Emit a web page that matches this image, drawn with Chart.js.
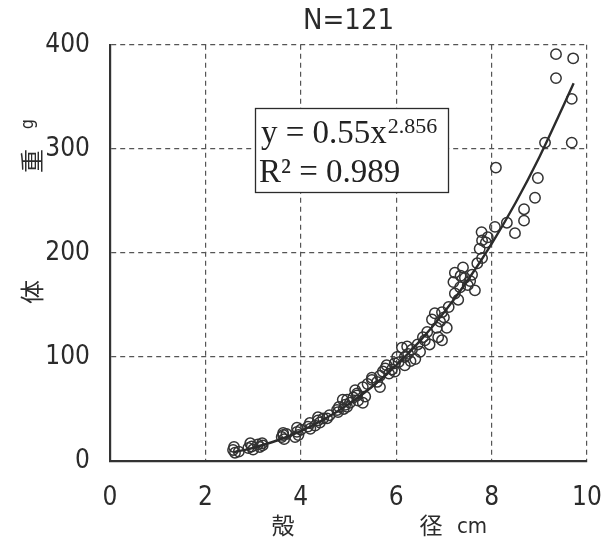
<!DOCTYPE html>
<html>
<head>
<meta charset="utf-8">
<script src="https://cdn.jsdelivr.net/npm/chart.js@4"></script>
<style>
  html, body { margin: 0; padding: 0; background: #fff; }
  #wrap { width: 610px; height: 546px; }
</style>
</head>
<body>
<div id="wrap"><canvas id="shellChart" width="610" height="546"></canvas></div>
<script>
// ==============================
// DATA
// ==============================

const chartTitle = 'N=121';
const xTicks = [0, 2, 4, 6, 8, 10];
const yTicks = [0, 100, 200, 300, 400];

// shell diameter (cm) / body weight (g)
const shellDiameter = [
    2.58, 2.6, 2.62, 2.9, 2.94, 2.97, 3.0, 3.14, 3.19, 3.2,
    3.6, 3.63, 3.63, 3.65, 3.88, 3.92, 3.92, 3.95,
    4.15, 4.19, 4.3, 4.36, 4.36, 4.4, 4.47, 4.55,
    4.76, 4.78, 4.8, 4.88, 4.93, 4.97, 4.97, 5.03,
    5.14, 5.18, 5.18, 5.3, 5.3, 5.2, 5.35,
    5.49, 5.49, 5.66, 5.66, 5.72, 5.77, 5.8, 5.91, 5.97, 5.97, 6.02,
    6.12, 6.18, 6.18, 6.23, 6.33, 6.5, 6.4, 6.3,
    6.56, 6.65, 6.75, 6.81, 6.88, 6.92, 6.96, 6.96, 7.06, 6.7, 6.85,
    7.23, 7.4, 7.44, 7.59, 7.34, 7.5, 7.65, 7.23, 7.3, 7.2, 7.55,
    7.79, 7.92, 7.8, 7.88, 7.8, 8.07, 8.32, 8.49, 8.68, 8.68, 8.91, 8.97, 8.09,
    9.12, 9.35, 9.71, 9.35, 9.68, 9.68,
    2.7, 3.1, 3.7, 4.0, 4.2, 4.6, 4.9, 5.1, 5.4, 5.6,
    5.85, 6.05, 6.25, 6.45, 6.6, 7.0, 7.1, 7.35, 7.7, 7.75
];
const bodyWeight = [
    10.6, 13.5, 8, 12.5, 17, 14, 11, 13.5, 17, 15,
    23, 27, 25, 21, 23, 32, 28, 25,
    33, 36.5, 34, 39, 42, 37, 41, 41,
    49, 47, 52, 59, 54, 52, 59, 56,
    68, 63, 65, 71, 56, 58, 62,
    78, 80, 71, 82, 86, 89, 92, 88, 94, 86, 100,
    109, 100, 92, 110, 107, 105, 98, 96,
    119, 124, 136, 142, 119, 134, 143, 116, 128, 112, 128,
    181, 186, 176, 179, 167, 169, 164, 161, 155, 172, 173,
    220, 215, 212, 210, 195, 225, 229, 219, 231, 242, 253, 272, 282,
    306, 391, 387, 368, 348, 306,
    9, 16, 26, 30, 31, 44, 50, 61, 74, 76,
    84, 95, 103, 112, 116, 138, 148, 178, 190, 204
];

// fitted curve y = 0.55x^2.856
const fitX = [2.6, 3.0, 3.5, 4.0, 4.5, 5.0, 5.5, 6.0, 6.5, 7.0, 7.5, 8.0, 8.5, 9.0, 9.5, 9.72];
const fitY = [8.4, 12.7, 19.7, 28.8, 40.4, 54.5, 71.6, 91.8, 115.4, 142.6, 173.7, 208.7, 248, 292, 341, 363];

const equationText = 'y = 0.55x';
const equationPower = '2.856';
const r2Text = 'R² = 0.989';


// ==============================
// HELPERS
// ==============================

const INK = '#2b2b2b';
const GRID = '#555555';
const NARROW = '"Liberation Sans Narrow", "DejaVu Sans Condensed", "Liberation Sans", sans-serif';
const CJK = '"Noto Sans CJK JP", "Noto Sans CJK SC", sans-serif';
const SERIF = '"Liberation Serif", "DejaVu Serif", serif';

const scatterPoints = shellDiameter.map((x, i) => ({ x: x, y: bodyWeight[i] }));
const fitPoints = fitX.map((x, i) => ({ x: x, y: fitY[i] }));

// labels and the equation box are drawn on top of the chart
const annotations = {
    id: 'annotations',
    afterDraw(chart) {
        const ctx = chart.ctx;
        ctx.save();
        ctx.strokeStyle = INK;

        // equation box
        ctx.lineWidth = 1.3;
        ctx.fillStyle = '#fff';
        ctx.fillRect(255, 108, 193, 84);
        ctx.strokeRect(255.5, 108.5, 193, 84);
        ctx.fillStyle = '#222';
        ctx.textAlign = 'left';
        ctx.textBaseline = 'alphabetic';
        ctx.font = '33px ' + SERIF;
        ctx.fillText(equationText, 261, 143);
        const w = ctx.measureText(equationText).width;
        ctx.font = '22px ' + SERIF;
        ctx.fillText(equationPower, 261 + w + 1, 133);
        ctx.font = '33px ' + SERIF;
        ctx.fillText(r2Text, 259, 182);

        // x axis title
        ctx.fillStyle = INK;
        ctx.textAlign = 'center';
        ctx.textBaseline = 'middle';
        ctx.font = '23px ' + CJK;
        ctx.fillText('殻', 283, 525);
        ctx.fillText('径', 431, 525);
        ctx.font = '22px ' + NARROW;
        ctx.fillText('cm', 472, 527);

        // y axis title (rotated)
        const yParts = [['体', 292, CJK, 24], ['重', 161, CJK, 24], ['g', 124, NARROW, 18]];
        yParts.forEach(([t, y, f, s]) => {
            ctx.save();
            ctx.translate(t === 'g' ? 28 : 32, y);
            ctx.rotate(-Math.PI / 2);
            ctx.font = s + 'px ' + f;
            ctx.fillText(t, 0, 0);
            ctx.restore();
        });
        ctx.restore();
    }
};


// ==============================
// CHART
// ==============================

const ctx = document.getElementById('shellChart').getContext('2d');
new Chart(ctx, {
    type: 'scatter',
    data: {
        datasets: [
            {
                label: 'fit',
                type: 'line',
                data: fitPoints,
                borderColor: INK,
                borderWidth: 2.4,
                pointRadius: 0,
                tension: 0.4,
                fill: false,
                order: 1
            },
            {
                label: 'samples',
                data: scatterPoints,
                pointRadius: 5.2,
                pointBorderWidth: 1.5,
                pointBorderColor: '#333',
                pointBackgroundColor: 'rgba(255,255,255,0)',
                order: 2
            }
        ]
    },
    options: {
        responsive: false,
        animation: false,
        layout: { padding: { left: 0, right: 23, top: 0, bottom: 0 } },
        plugins: {
            legend: { display: false },
            tooltip: { enabled: false },
            title: {
                display: true,
                text: chartTitle,
                fullSize: false,
                color: INK,
                font: { family: NARROW, size: 29, weight: 'normal', lineHeight: 1.2 },
                padding: { top: 4, bottom: 6 }
            }
        },
        scales: {
            x: {
                type: 'linear',
                min: 0,
                max: 10,
                afterBuildTicks: (s) => { s.ticks = xTicks.map(v => ({ value: v })); },
                afterFit: (s) => {
                    s.height = 85;
                    s.paddingLeft = 0;
                    s.paddingRight = 0;
                },
                ticks: {
                    color: INK,
                    padding: 22,
                    maxRotation: 0,
                    minRotation: 0,
                    font: { family: NARROW, size: 26 }
                },
                grid: {
                    color: GRID,
                    lineWidth: 1.2,
                    drawTicks: false
                },
                border: { display: true, color: '#333', width: 2.2, dash: [5, 4] }
            },
            y: {
                type: 'linear',
                min: 0,
                max: 400,
                afterBuildTicks: (s) => { s.ticks = yTicks.map(v => ({ value: v })); },
                afterFit: (s) => { s.width = 110; },
                ticks: {
                    color: INK,
                    padding: 20,
                    font: { family: NARROW, size: 26 }
                },
                grid: {
                    color: GRID,
                    lineWidth: 1.2,
                    drawTicks: false
                },
                border: { display: true, color: '#333', width: 2.2, dash: [5, 4] }
            }
        }
    },
    plugins: [annotations]
});
</script>
</body>
</html>
